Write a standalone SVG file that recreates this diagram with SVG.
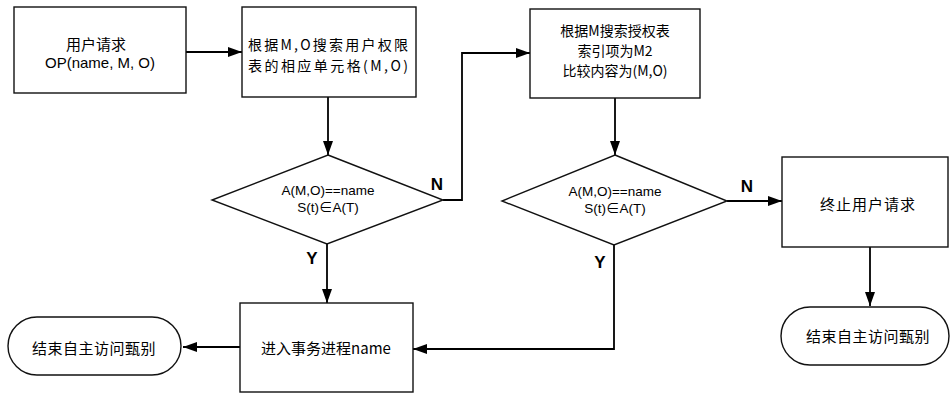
<svg xmlns="http://www.w3.org/2000/svg" width="952" height="394" viewBox="0 0 952 394">
<defs>
<marker id="ah" viewBox="0 0 14 10" refX="14" refY="5" markerWidth="14" markerHeight="10" markerUnits="userSpaceOnUse" orient="auto">
<path d="M0,0 L14,5 L0,10 Z" fill="#000"/>
</marker>
<style>
.box{fill:#fff;stroke:#111;stroke-width:1.4}
.cn{font-family:"Noto Sans CJK SC","Liberation Sans",sans-serif;font-size:15px;fill:#000;text-anchor:middle;dominant-baseline:central}
.cs{font-family:"Noto Sans CJK SC","Liberation Sans",sans-serif;font-size:14px;fill:#000;text-anchor:middle;dominant-baseline:central}
.lt{font-family:"Liberation Sans","Noto Sans CJK SC",sans-serif;font-size:15px;fill:#000;text-anchor:middle;dominant-baseline:central}
.dt{font-family:"Liberation Sans","Noto Sans CJK SC",sans-serif;font-size:13.5px;fill:#000;text-anchor:middle;dominant-baseline:central}
.lb{font-family:"Liberation Sans",sans-serif;font-size:17px;font-weight:bold;fill:#000;text-anchor:middle;dominant-baseline:central}
.ar{fill:none;stroke:#000;stroke-width:1.8;marker-end:url(#ah)}
</style>
</defs>
<rect width="952" height="394" fill="#fff"/>
<g id="connectors">
<line class="ar" x1="186" y1="52" x2="242" y2="52"/>
<line class="ar" x1="328" y1="97" x2="328" y2="155"/>
<polyline class="ar" points="443,200 462,200 462,53 530,53"/>
<line class="ar" x1="615" y1="98" x2="615" y2="155"/>
<line class="ar" x1="727" y1="201" x2="782" y2="201"/>
<line class="ar" x1="870" y1="247" x2="870" y2="306"/>
<line class="ar" x1="327" y1="244" x2="327" y2="303"/>
<polyline class="ar" points="614,245 614,349 413,349"/>
<line class="ar" x1="240" y1="347" x2="183" y2="347"/>
<text class="lb" x="437" y="184">N</text>
<text class="lb" x="312" y="258">Y</text>
<text class="lb" x="747" y="186">N</text>
<text class="lb" x="600" y="262">Y</text>
</g>
<g id="n1">
<rect class="box" x="14" y="7" width="172" height="86"/>
<text class="cn" x="96" y="43">用户请求</text>
<text class="lt" x="100" y="62">OP(name, M, O)</text>
</g>
<g id="n2">
<rect class="box" x="242" y="7" width="174" height="90"/>
<text class="cs" x="328" y="44" textLength="160" lengthAdjust="spacing">根据M,O搜索用户权限</text>
<text class="cs" x="328" y="65" textLength="160" lengthAdjust="spacing">表的相应单元格(M,O)</text>
</g>
<g id="n3">
<polygon class="box" points="328,155 443,200 327,244 212,200"/>
<text class="dt" x="328" y="190">A(M,O)==name</text>
<text class="dt" x="328" y="207">S(t)∈A(T)</text>
</g>
<g id="n4">
<rect class="box" x="530" y="9" width="170" height="89"/>
<text class="cs" x="615" y="30">根据M搜索授权表</text>
<text class="cs" x="615" y="50">索引项为M2</text>
<text class="cs" x="615" y="70">比较内容为(M,O)</text>
</g>
<g id="n5">
<polygon class="box" points="615,155 727,201 614,245 502,201"/>
<text class="dt" x="615" y="191">A(M,O)==name</text>
<text class="dt" x="615" y="208">S(t)∈A(T)</text>
</g>
<g id="n6">
<rect class="box" x="782" y="157" width="166" height="90"/>
<text class="cn" x="868" y="203" letter-spacing="1">终止用户请求</text>
</g>
<g id="n7">
<rect class="box" x="781" y="307" width="168" height="58" rx="29" ry="29"/>
<text class="cn" x="868" y="335" letter-spacing="0.5">结束自主访问甄别</text>
</g>
<g id="n8">
<rect class="box" x="240" y="303" width="173" height="89"/>
<text class="cn" x="326" y="347">进入事务进程name</text>
</g>
<g id="n9">
<rect class="box" x="8" y="317" width="173" height="58" rx="29" ry="29"/>
<text class="cn" x="94" y="347" letter-spacing="0.5">结束自主访问甄别</text>
</g>
</svg>
